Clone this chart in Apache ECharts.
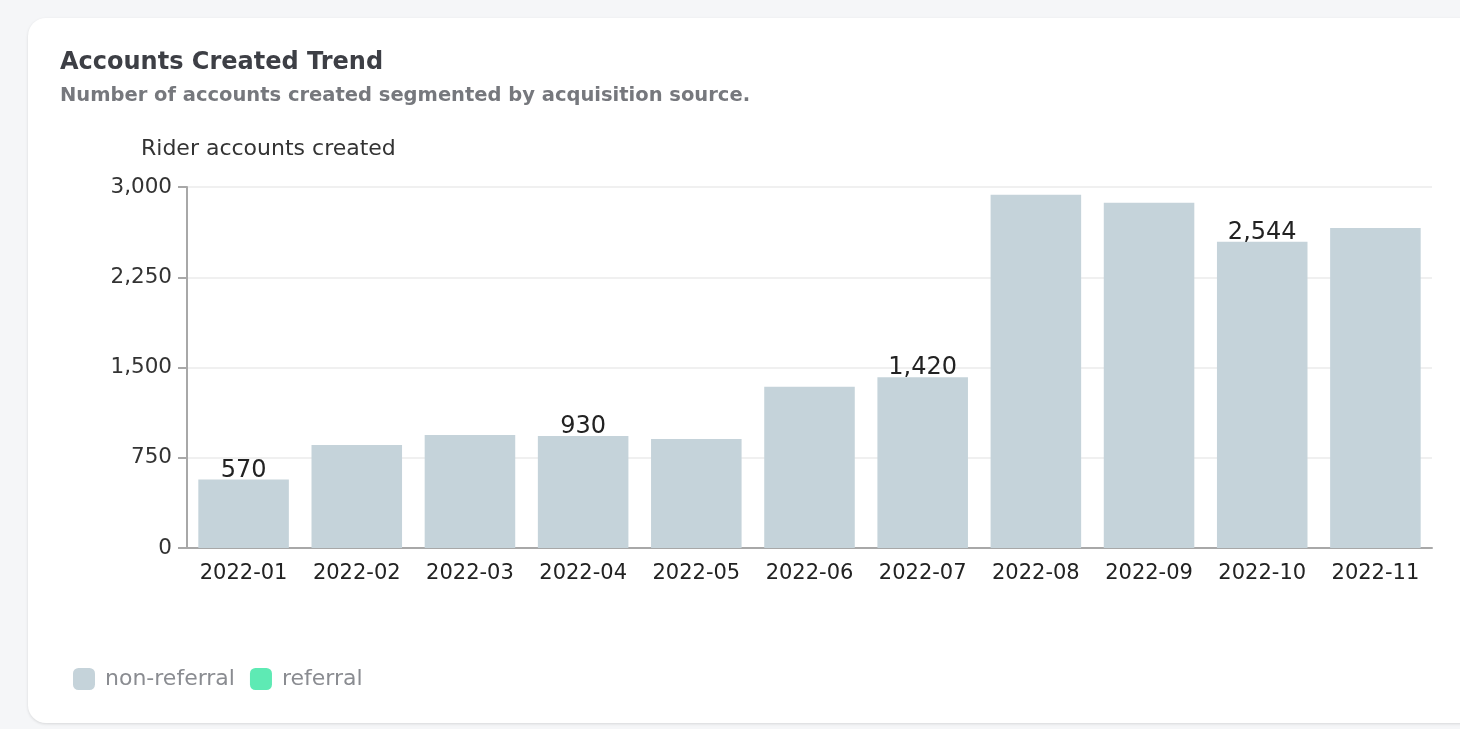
<!DOCTYPE html>
<html>
<head>
<meta charset="utf-8">
<script src="https://cdn.jsdelivr.net/npm/echarts@6/dist/echarts.min.js"></script>
<style>
  html, body { margin: 0; padding: 0; width: 1460px; height: 729px; background: #f5f6f8; overflow: hidden; }
  #card { position: absolute; left: 28px; top: 18px; width: 1460px; height: 705px; background: #fff;
          border-radius: 18px; box-shadow: 0 1px 3px rgba(0,0,0,0.12); }
  #chart { position: absolute; left: 0; top: 0; width: 1460px; height: 729px; }
</style>
</head>
<body>
<div id="card"></div>
<div id="chart"></div>
<script>
const categories = ['2022-01','2022-02','2022-03','2022-04','2022-05','2022-06','2022-07','2022-08','2022-09','2022-10','2022-11'];
const nonReferral = [570, 855, 940, 930, 905, 1340, 1420, 2935, 2870, 2544, 2660];
const referral = [0, 0, 0, 0, 0, 0, 0, 0, 0, 0, 0];
const yTicks = [0, 750, 1500, 2250, 3000];

const chart = echarts.init(document.getElementById('chart'), null, { renderer: 'canvas' });
chart.setOption({
  backgroundColor: 'transparent',
  animation: false,
  title: [
    { text: 'Accounts Created Trend', left: 55, top: 46,
      textStyle: { fontFamily: 'DejaVu Sans', fontSize: 24, fontWeight: 'bold', color: '#3d3f45' } },
    { text: 'Number of accounts created segmented by acquisition source.', left: 55, top: 81,
      textStyle: { fontFamily: 'DejaVu Sans', fontSize: 19.5, fontWeight: 'bold', color: '#76787d' } },
    { text: 'Rider accounts created', left: 136, top: 133,
      textStyle: { fontFamily: 'DejaVu Sans', fontSize: 22, fontWeight: 'normal', color: '#333' } }
  ],
  legend: {
    left: 68, top: 663, itemWidth: 22, itemHeight: 22, itemGap: 15,
    icon: 'roundRect',
    textStyle: { fontFamily: 'DejaVu Sans', fontSize: 22, color: '#8a8c91', padding: [0, 0, 0, 5] },
    data: ['non-referral', 'referral']
  },
  grid: { left: 187, right: 28, top: 187, bottom: 181 },
  xAxis: {
    type: 'category',
    data: categories,
    axisLine: { lineStyle: { color: '#a8a8a8', width: 2 } },
    axisTick: { show: false },
    axisLabel: { interval: 0, hideOverlap: false, fontFamily: 'DejaVu Sans', fontSize: 21, color: '#222', margin: 15 }
  },
  yAxis: {
    type: 'value',
    min: 0, max: 3000, interval: 750,
    axisLine: { show: true, lineStyle: { color: '#a8a8a8', width: 2 } },
    axisTick: { show: true, length: 9, lineStyle: { color: '#a8a8a8', width: 2 } },
    splitLine: { lineStyle: { color: '#f0f0f0', width: 2 } },
    axisLabel: {
      fontFamily: 'DejaVu Sans', fontSize: 21.5, color: '#333', margin: 15,
      formatter: v => yTicks.includes(v) ? v.toLocaleString('en-US') : ''
    }
  },
  series: [
    {
      name: 'non-referral', type: 'bar', stack: 'total',
      data: nonReferral, barCategoryGap: '20%',
      itemStyle: { color: '#c5d3da' },
      label: {
        show: true, position: 'top', distance: -3,
        fontFamily: 'DejaVu Sans', fontSize: 24, color: '#222',
        formatter: p => (p.dataIndex % 3 === 0) ? p.value.toLocaleString('en-US') : ''
      }
    },
    {
      name: 'referral', type: 'bar', stack: 'total',
      data: referral,
      itemStyle: { color: '#5eeab4' }
    }
  ]
});
</script>
</body>
</html>
